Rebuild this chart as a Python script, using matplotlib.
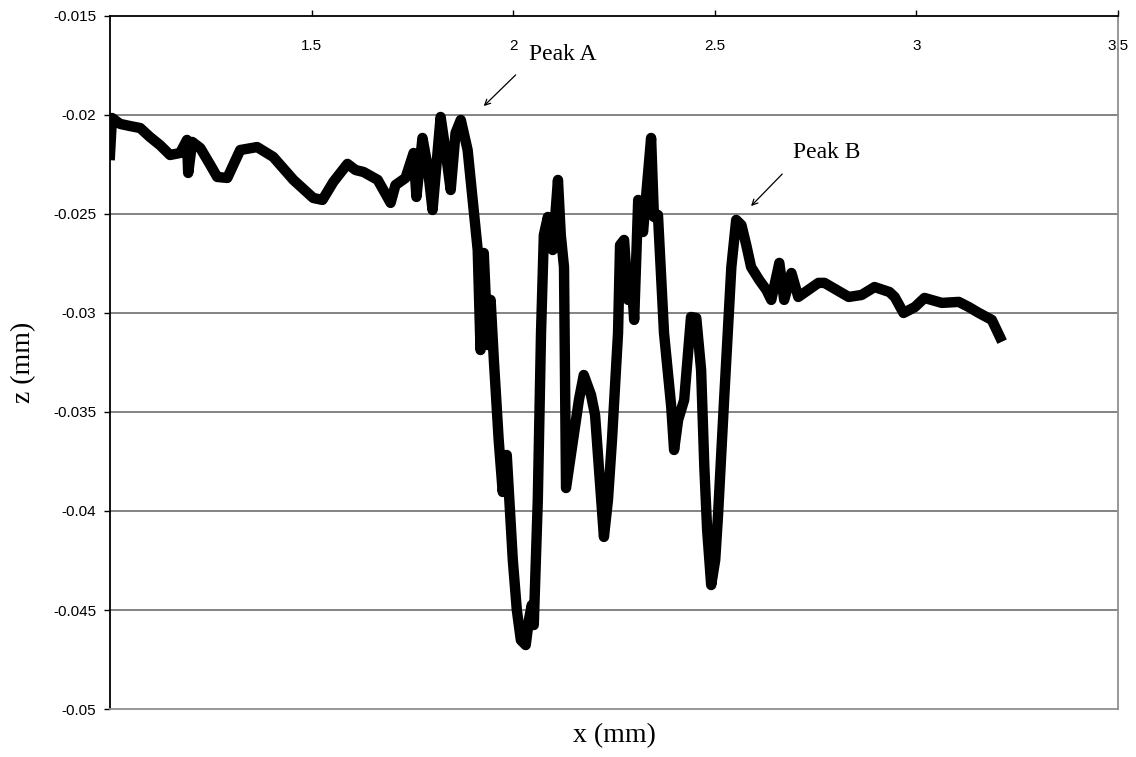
import matplotlib
matplotlib.use("Agg")
import matplotlib.pyplot as plt

# surface profile
x_mm = [1.000, 1.005, 1.025, 1.050, 1.075, 1.099, 1.124, 1.149, 1.174, 1.191,
        1.194, 1.204, 1.224, 1.249, 1.266, 1.291, 1.323, 1.365, 1.405, 1.455,
        1.504, 1.527, 1.554, 1.589, 1.609, 1.629, 1.664, 1.696, 1.708, 1.733,
        1.753, 1.760, 1.775, 1.788, 1.800, 1.820, 1.832, 1.845, 1.857, 1.870,
        1.887, 1.902, 1.912, 1.919, 1.927, 1.937, 1.944, 1.952, 1.964, 1.974,
        1.984, 1.989, 1.999, 2.009, 2.019, 2.031, 2.039, 2.046, 2.051, 2.061,
        2.069, 2.076, 2.086, 2.098, 2.111, 2.118, 2.126, 2.131, 2.163, 2.175,
        2.193, 2.203, 2.213, 2.225, 2.235, 2.245, 2.260, 2.265, 2.275, 2.285,
        2.292, 2.300, 2.310, 2.322, 2.334, 2.342, 2.349, 2.359, 2.374, 2.392,
        2.399, 2.409, 2.424, 2.441, 2.454, 2.466, 2.474, 2.481, 2.491, 2.501,
        2.508, 2.523, 2.541, 2.553, 2.566, 2.578, 2.590, 2.610, 2.628, 2.640,
        2.660, 2.672, 2.690, 2.707, 2.757, 2.772, 2.832, 2.864, 2.896, 2.933,
        2.946, 2.968, 2.996, 3.020, 3.063, 3.105, 3.130, 3.155, 3.187, 3.207]
z_mm = [-0.02202, -0.02015, -0.02045, -0.02056, -0.02066, -0.02111, -0.02152, -0.02202, -0.02192, -0.02126,
        -0.02293, -0.02136, -0.02167, -0.02253, -0.02313, -0.02318, -0.02177, -0.02162, -0.02212, -0.02328,
        -0.02419, -0.02429, -0.02338, -0.02247, -0.02278, -0.02288, -0.02328, -0.02444, -0.02354, -0.02318,
        -0.02192, -0.02414, -0.02116, -0.02263, -0.02480, -0.02010, -0.02177, -0.02379, -0.02091, -0.02025,
        -0.02177, -0.02480, -0.02682, -0.03187, -0.02697, -0.03162, -0.02934, -0.03237, -0.03641, -0.03904,
        -0.03717, -0.03894, -0.04247, -0.04500, -0.04652, -0.04677, -0.04550, -0.04475, -0.04576, -0.03944,
        -0.03101, -0.02606, -0.02515, -0.02682, -0.02328, -0.02606, -0.02768, -0.03884, -0.03439, -0.03313,
        -0.03414, -0.03515, -0.03793, -0.04131, -0.03944, -0.03641, -0.03101, -0.02657, -0.02631, -0.02934,
        -0.02783, -0.03035, -0.02429, -0.02591, -0.02303, -0.02116, -0.02515, -0.02505, -0.03101, -0.03475,
        -0.03692, -0.03540, -0.03439, -0.03020, -0.03025, -0.03288, -0.03778, -0.04096, -0.04374, -0.04247,
        -0.04020, -0.03439, -0.02768, -0.02530, -0.02556, -0.02657, -0.02768, -0.02833, -0.02884, -0.02934,
        -0.02747, -0.02934, -0.02798, -0.02919, -0.02848, -0.02848, -0.02919, -0.02909, -0.02869, -0.02894,
        -0.02919, -0.03000, -0.02970, -0.02924, -0.02949, -0.02944, -0.02970, -0.03000, -0.03035, -0.03121]

x_ticks = [1.5, 2, 2.5, 3, 3.5]
x_ticklabels = ["1.5", "2", "2.5", "3", "3.5"]
y_ticks = [-0.05, -0.045, -0.04, -0.035, -0.03, -0.025, -0.02, -0.015]
y_ticklabels = ["-0.05", "-0.045", "-0.04", "-0.035", "-0.03", "-0.025", "-0.02", "-0.015"]

# annotations: (label, arrow tip, arrow tail, text position)
peak_a = ("Peak A", (1.922, -0.01965), (2.011, -0.01788), (2.039, -0.01697))
peak_b = ("Peak B", (2.585, -0.0247), (2.672, -0.02288), (2.695, -0.02187))

fig = plt.figure(figsize=(11.36, 7.57), dpi=100)
ax = fig.add_axes([0.0968, 0.0634, 0.8874, 0.9155])

for yv in y_ticks[1:-1]:
    ax.axhline(yv, color="#6e6e6e", lw=1.2, zorder=1)

ax.plot(x_mm, z_mm, color="black", lw=7.5, zorder=3)

ax.set_xlim(1, 3.5)
ax.set_ylim(-0.05, -0.015)

ax.xaxis.set_ticks_position("top")
ax.set_xticks(x_ticks)
ax.set_xticklabels(x_ticklabels)
ax.set_yticks(y_ticks)
ax.set_yticklabels(y_ticklabels)
ax.tick_params(axis="x", direction="out", length=4, width=1, pad=-31,
               labelsize=11, colors="black")
ax.tick_params(axis="y", direction="out", length=4, width=1, pad=6,
               labelsize=11, colors="black")
for lab in ax.get_xticklabels() + ax.get_yticklabels():
    lab.set_family("Liberation Sans")

ax.spines["left"].set_color("black")
ax.spines["top"].set_color("black")
ax.spines["right"].set_color("#909090")
ax.spines["bottom"].set_color("#909090")
for s in ax.spines.values():
    s.set_linewidth(1.3)

ax.set_xlabel("x (mm)", family="Liberation Serif", fontsize=20, labelpad=10)
ax.set_ylabel("z (mm)", family="Liberation Serif", fontsize=20, labelpad=12)

for label, tip, tail, txt in [peak_a, peak_b]:
    ax.annotate("", xy=tip, xytext=tail,
                arrowprops=dict(arrowstyle="->", color="black", lw=0.9))
    ax.text(txt[0], txt[1], label, family="Liberation Serif", fontsize=17,
            ha="left", va="center")

fig.savefig("out.png", dpi=100)
